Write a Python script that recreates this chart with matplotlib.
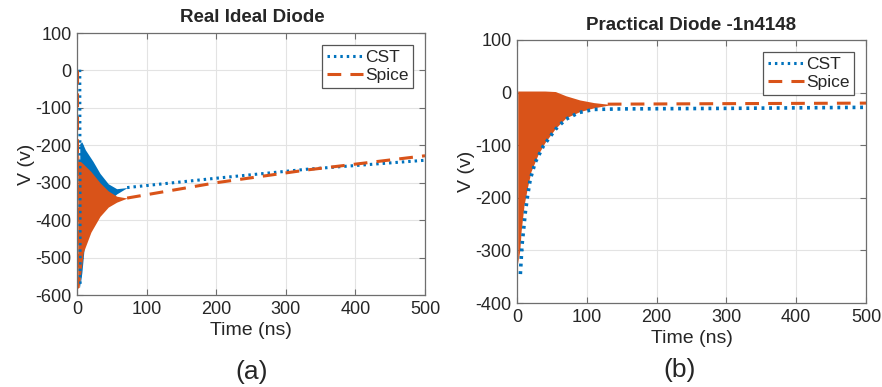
import matplotlib
matplotlib.use("Agg")
import matplotlib.pyplot as plt
from matplotlib.lines import Line2D

plt.rcParams['font.family'] = ['Liberation Sans', 'DejaVu Sans']
plt.rcParams['axes.unicode_minus'] = False

BLUE = '#0072BD'
ORANGE = '#D95319'
TXT = '#262626'

# ---------------- Panel (a): Real Ideal Diode ----------------
a_cst_spike_t = [4, 4.5]
a_cst_spike_v = [2, -580]
a_cst_env_t = [4, 7, 12, 23, 33, 45, 57, 72]
a_cst_env_hi = [-195, -191, -212, -243, -275, -303, -316, -313]
a_cst_env_lo = [-580, -540, -440, -400, -380, -350, -330, -313]
a_cst_tail_t = [72, 200, 330, 500]
a_cst_tail_v = [-313, -288, -264, -240]

a_sp_spike_t = [0.5, 0.5]
a_sp_spike_v = [0, -580]
a_sp_env_t = [1, 3, 9, 20, 33, 45, 57, 72]
a_sp_env_hi = [-200, -240, -250, -270, -300, -322, -336, -341]
a_sp_env_lo = [-580, -580, -486, -432, -390, -365, -352, -341]
a_sp_tail_t = [72, 200, 330, 500]
a_sp_tail_v = [-341, -300, -266, -228]

# ---------------- Panel (b): Practical Diode -1n4148 ----------------
b_cst_t = [4.8, 7.1, 9.5, 11.9, 15.2, 19, 26, 38, 55, 69.5, 88.6, 110, 150, 300, 500]
b_cst_v = [-345, -291, -260, -228, -196, -165, -133, -101, -70, -51, -38, -32, -31, -30, -28]

b_sp_env_t = [1, 4, 6, 10, 15, 20, 30, 40, 55, 70, 90, 110, 130]
b_sp_env_hi = [3, 3, 3, 3, 3, 3, 3, 3, 2, -6, -14, -19, -22]
b_sp_env_lo = [-325, -300, -262, -215, -180, -150, -118, -95, -68, -48, -36, -29, -24]
b_sp_tail_t = [130, 300, 500]
b_sp_tail_v = [-22, -21, -20]

xticks = [0, 100, 200, 300, 400, 500]
a_yticks = [100, 0, -100, -200, -300, -400, -500, -600]
b_yticks = [100, 0, -100, -200, -300, -400]

W, H = 882, 387
fig = plt.figure(figsize=(W / 100, H / 100), dpi=100)


def px_axes(l, t, r, b):
    return fig.add_axes([l / W, 1 - b / H, (r - l) / W, (b - t) / H])


dot_ls = (0, (0.8, 1.3))
dash_ls = (0, (4.5, 3))


def style(ax, yticks):
    ax.set_xlim(0, 500)
    ax.set_ylim(min(yticks), max(yticks))
    ax.set_xticks(xticks)
    ax.set_yticks(yticks)
    ax.grid(True, color='#e3e3e3', lw=0.8)
    ax.set_axisbelow(True)
    for s in ax.spines.values():
        s.set_color('#6e6e6e')
        s.set_linewidth(0.9)
    ax.tick_params(direction='in', length=4, width=0.8, color='#6e6e6e',
                   top=True, right=True, labelsize=13, labelcolor=TXT, pad=4)
    ax.set_xlabel('Time (ns)', fontsize=14, color=TXT, labelpad=3)
    ax.set_ylabel('V (v)', fontsize=14, color=TXT, labelpad=0)
    handles = [Line2D([], [], color=BLUE, lw=2.2, ls=dot_ls),
               Line2D([], [], color=ORANGE, lw=2.2, ls=dash_ls)]
    leg = ax.legend(handles, ['CST', 'Spice'], loc='upper right', fontsize=12.5,
                    handlelength=2.1, handletextpad=0.1, borderpad=0.25,
                    labelspacing=0.2, fancybox=False, framealpha=1,
                    borderaxespad=0.7)
    leg.get_frame().set_edgecolor('#555555')
    leg.get_frame().set_linewidth(0.9)
    for t in leg.get_texts():
        t.set_color(TXT)


# Panel a
ax1 = px_axes(77, 33, 425, 295)
ax1.fill_between(a_cst_env_t, a_cst_env_lo, a_cst_env_hi, color=BLUE, lw=0)
ax1.plot(a_cst_spike_t, a_cst_spike_v, color=BLUE, lw=2.2, ls=dot_ls)
ax1.plot(a_cst_tail_t, a_cst_tail_v, color=BLUE, lw=2.2, ls=dot_ls)
ax1.fill_between(a_sp_env_t, a_sp_env_lo, a_sp_env_hi, color=ORANGE, lw=0)
ax1.plot(a_sp_spike_t, a_sp_spike_v, color=ORANGE, lw=2.2, ls=dash_ls)
ax1.plot(a_sp_tail_t, a_sp_tail_v, color=ORANGE, lw=2.2, ls=dash_ls)
style(ax1, a_yticks)

# Panel b
ax2 = px_axes(517, 40, 866, 303)
ax2.plot(b_cst_t, b_cst_v, color=BLUE, lw=2.6, ls=dot_ls)
ax2.fill_between(b_sp_env_t, b_sp_env_lo, b_sp_env_hi, color=ORANGE, lw=0)
ax2.plot(b_sp_tail_t, b_sp_tail_v, color=ORANGE, lw=2.2, ls=dash_ls)
style(ax2, b_yticks)

fig.text(252 / W, 1 - 18 / H, 'Real Ideal Diode', ha='center', va='center',
         fontsize=13.5, fontweight='bold', color=TXT)
fig.text(691 / W, 1 - 25 / H, 'Practical Diode -1n4148', ha='center', va='center',
         fontsize=13.5, fontweight='bold', color=TXT)
fig.text(252 / W, 1 - 372 / H, '(a)', ha='center', va='center', fontsize=19, color=TXT)
fig.text(680 / W, 1 - 370 / H, '(b)', ha='center', va='center', fontsize=19, color=TXT)

fig.savefig('out.png', dpi=100)
